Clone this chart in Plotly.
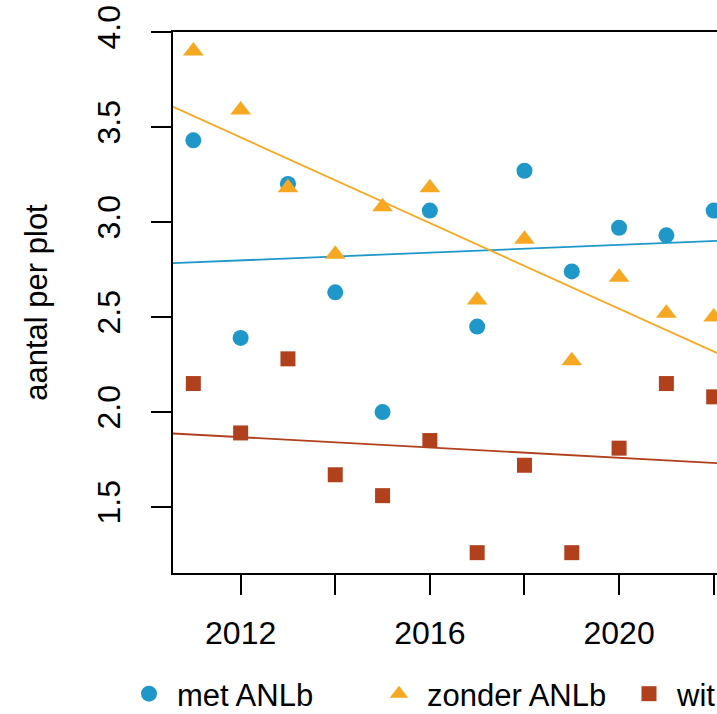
import numpy as np
import plotly.graph_objects as go

years = [2011, 2012, 2013, 2014, 2015, 2016, 2017, 2018, 2019, 2020, 2021, 2022]
met_anlb = [3.43, 2.39, 3.20, 2.63, 2.00, 3.06, 2.45, 3.27, 2.74, 2.97, 2.93, 3.06]
zonder_anlb = [3.90, 3.59, 3.18, 2.83, 3.08, 3.18, 2.59, 2.91, 2.27, 2.71, 2.52, 2.50]
wit = [2.15, 1.89, 2.28, 1.67, 1.56, 1.85, 1.26, 1.72, 1.26, 1.81, 2.15, 2.08]

series_names = ["met ANLb", "zonder ANLb", "wit"]
series_values = [met_anlb, zonder_anlb, wit]
colors = ["#1f98c9", "#f6a822", "#b1401d"]
symbols = ["circle", "triangle-up", "square"]
sizes = [16, 18, 15]
legend_widths = [189, 189, 60]

x_ticks = [2012, 2014, 2016, 2018, 2020, 2022]
x_ticktext = ["2012", "", "2016", "", "2020", ""]
y_ticks = [1.5, 2.0, 2.5, 3.0, 3.5, 4.0]
y_ticktext = ["1.5", "2.0", "2.5", "3.0", "3.5", "4.0"]

FONT = "Liberation Sans, Arial, sans-serif"

fig = go.Figure()
x_arr = np.array(years, dtype=float)
line_x = np.array([2009.0, 2024.0])
for name, vals, col in zip(series_names, series_values, colors):
    slope, intercept = np.polyfit(x_arr, np.array(vals), 1)
    fig.add_trace(go.Scatter(
        x=line_x, y=slope * line_x + intercept, mode="lines",
        line=dict(color=col, width=1.8), showlegend=False, hoverinfo="skip"))

for name, vals, col, sym, sz, lw in zip(series_names, series_values, colors, symbols, sizes, legend_widths):
    fig.add_trace(go.Scatter(
        x=years, y=vals, mode="markers", name=name,
        marker=dict(color=col, symbol=sym, size=sz, line=dict(width=0)),
        legendwidth=lw))

fig.update_layout(
    width=717, height=714,
    margin=dict(l=173, r=0, t=32, b=141, pad=0, autoexpand=False),
    plot_bgcolor="white", paper_bgcolor="white",
    font=dict(family=FONT, size=32, color="black"),
    legend=dict(orientation="h", x=-0.0956, xanchor="left", y=-0.2237, yanchor="middle",
                font=dict(size=31, family=FONT), itemwidth=46, bgcolor="rgba(0,0,0,0)",
                tracegroupgap=0),
    xaxis=dict(range=[2010.57, 2022.07], tickmode="array", tickvals=x_ticks, ticktext=x_ticktext,
               ticks="outside", ticklen=20, tickwidth=1.6, tickcolor="black",
               showline=True, linewidth=2, linecolor="black", mirror=True,
               showgrid=False, zeroline=False, ticklabelstandoff=11, automargin=False,
               ticklabeloverflow="allow",
               tickfont=dict(size=32, family=FONT)),
    yaxis=dict(range=[1.153, 4.0], tickmode="array", tickvals=y_ticks, ticktext=y_ticktext,
               tickangle=-90, ticks="outside", ticklen=20, tickwidth=1.6, tickcolor="black",
               showline=True, linewidth=2, linecolor="black", automargin=False,
               showgrid=False, zeroline=False, ticklabelstandoff=18,
               ticklabeloverflow="allow",
               tickfont=dict(size=32, family=FONT),
               title=dict(text="aantal per plot", font=dict(size=31, family=FONT), standoff=34)),
)

fig.write_html(
    "out.html",
    config={"displayModeBar": False},
    post_script="document.body.style.margin='0';document.documentElement.style.overflow='hidden';document.body.style.overflow='hidden';",
)
